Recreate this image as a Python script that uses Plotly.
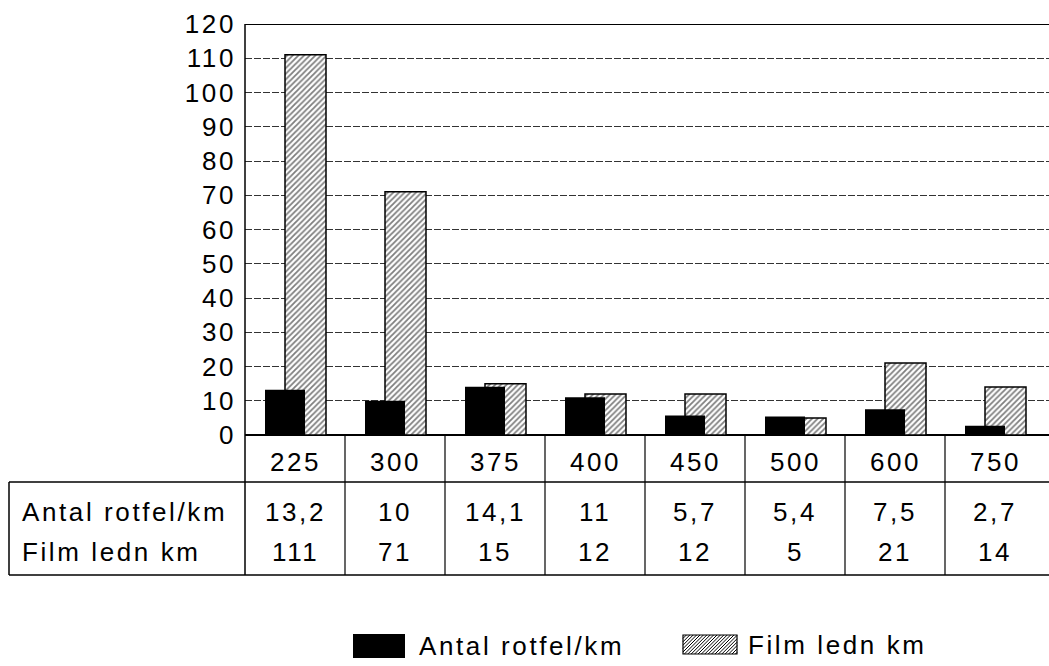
import plotly.graph_objects as go

# Data
categories = ["225", "300", "375", "400", "450", "500", "600", "750"]
antal_rotfel = [13.2, 10, 14.1, 11, 5.7, 5.4, 7.5, 2.7]
film_ledn = [111, 71, 15, 12, 12, 5, 21, 14]
row_labels = ["Antal rotfel/km", "Film ledn km"]
y_ticks = list(range(0, 121, 10))

# Canvas geometry (pixels)
W, H = 1049, 666
L, R, T, B = 245, 0, 24, 231
PLOT_W = W - L - R
PLOT_H = H - T - B
X_MIN, X_MAX = -0.5, 7.54

FONT = "Liberation Sans, Arial, Helvetica, sans-serif"
FS = 26
LS = 2.6  # letter spacing in px


def spaced(s, ls=LS):
    return f'<span style="letter-spacing:{ls}px">{s}</span>'


def px_x(px):
    return (px - L) / PLOT_W


def px_y(py):
    return (H - B - py) / PLOT_H


def idx_x(v):
    return (v - X_MIN) / (X_MAX - X_MIN)


def fmt(v):
    return f"{v:g}".replace(".", ",")


fig = go.Figure()

# Hatched series sits behind the solid one
fig.add_trace(go.Bar(
    x=categories, y=film_ledn, name=row_labels[1],
    width=0.41, offset=-0.10,
    marker=dict(color="white",
                line=dict(color="black", width=1.5),
                pattern=dict(shape="/", fgcolor="black", bgcolor="white",
                             size=4, solidity=0.45)),
    showlegend=False,
))
fig.add_trace(go.Bar(
    x=categories, y=antal_rotfel, name=row_labels[0],
    width=0.40, offset=-0.30,
    marker=dict(color="black", line=dict(width=0)),
    showlegend=False,
))

shapes = []
line_k = dict(color="black", width=1.5)

# Frame: top border and the left axis running down through the table
shapes.append(dict(type="line", xref="paper", yref="y", x0=0, x1=1, y0=120, y1=120,
                   line=dict(color="black", width=2)))
shapes.append(dict(type="line", xref="paper", yref="paper", x0=0, x1=0,
                   y0=1, y1=px_y(575), line=line_k))

# Table grid
for py in (482, 575):
    shapes.append(dict(type="line", xref="paper", yref="paper",
                       x0=px_x(9), x1=1, y0=px_y(py), y1=px_y(py), line=line_k))
shapes.append(dict(type="line", xref="paper", yref="paper", x0=px_x(9), x1=px_x(9),
                   y0=px_y(482), y1=px_y(575), line=line_k))
for k in range(len(categories) - 1):
    xp = idx_x(k + 0.5)
    shapes.append(dict(type="line", xref="paper", yref="paper", x0=xp, x1=xp,
                       y0=0, y1=px_y(575), line=dict(color="black", width=1.2)))

# Legend swatches
shapes.append(dict(type="rect", xref="paper", yref="paper",
                   x0=px_x(353), x1=px_x(405), y0=px_y(658), y1=px_y(634),
                   fillcolor="black", line=dict(width=0)))
hx0, hx1, hy0, hy1 = 683, 737, 635, 654
shapes.append(dict(type="rect", xref="paper", yref="paper",
                   x0=px_x(hx0), x1=px_x(hx1), y0=px_y(hy1), y1=px_y(hy0),
                   fillcolor="white", line=dict(color="black", width=1.2)))
step = 3.4
h = hy1 - hy0
c = hx0 - h
while c < hx1:
    # segment of the line x = c + (hy1 - y), clipped to the swatch box
    ya, yb = hy1, hy0
    xa, xb = c, c + h
    if xa < hx0:
        ya = hy1 - (hx0 - c)
        xa = hx0
    if xb > hx1:
        yb = hy1 - (hx1 - c)
        xb = hx1
    if xb > xa:
        shapes.append(dict(type="line", xref="paper", yref="paper",
                           x0=px_x(xa), x1=px_x(xb), y0=px_y(ya), y1=px_y(yb),
                           line=dict(color="black", width=1)))
    c += step

annotations = []
txt_font = dict(family=FONT, size=FS, color="#000")

# Category row
for i, cat in enumerate(categories):
    annotations.append(dict(xref="paper", yref="paper", x=idx_x(i), y=px_y(462),
                            text=spaced(cat), showarrow=False, font=txt_font,
                            xanchor="center", yanchor="middle"))
# Value rows
for row_y, label, vals in ((512, row_labels[0], antal_rotfel),
                           (552, row_labels[1], film_ledn)):
    annotations.append(dict(xref="paper", yref="paper", x=px_x(20), y=px_y(row_y),
                            text=spaced(label), showarrow=False, font=txt_font,
                            xanchor="left", yanchor="middle"))
    for i, v in enumerate(vals):
        annotations.append(dict(xref="paper", yref="paper", x=idx_x(i), y=px_y(row_y),
                                text=spaced(fmt(v)), showarrow=False, font=txt_font,
                                xanchor="center", yanchor="middle"))

# Legend labels
annotations.append(dict(xref="paper", yref="paper", x=px_x(417), y=px_y(646),
                        text=spaced(row_labels[0]), showarrow=False, font=txt_font,
                        xanchor="left", yanchor="middle"))
annotations.append(dict(xref="paper", yref="paper", x=px_x(746), y=px_y(645),
                        text=spaced(row_labels[1]), showarrow=False, font=txt_font,
                        xanchor="left", yanchor="middle"))

fig.update_layout(
    width=W, height=H, autosize=False,
    margin=dict(l=L, r=R, t=T, b=B, pad=0),
    paper_bgcolor="white", plot_bgcolor="white",
    barmode="overlay",
    font=txt_font,
    shapes=shapes,
    annotations=annotations,
    xaxis=dict(type="category", range=[X_MIN, X_MAX], showticklabels=False,
               showgrid=False, showline=False, zeroline=False, ticks=""),
    yaxis=dict(range=[0, 120], tickvals=y_ticks,
               ticktext=[spaced(v) for v in y_ticks],
               tickfont=txt_font, ticks="", ticklabelstandoff=8,
               showgrid=True, gridcolor="#333", gridwidth=1, griddash="7px,2px",
               zeroline=True, zerolinecolor="black", zerolinewidth=1.5,
               showline=False),
)

fig.write_html("out.html")
